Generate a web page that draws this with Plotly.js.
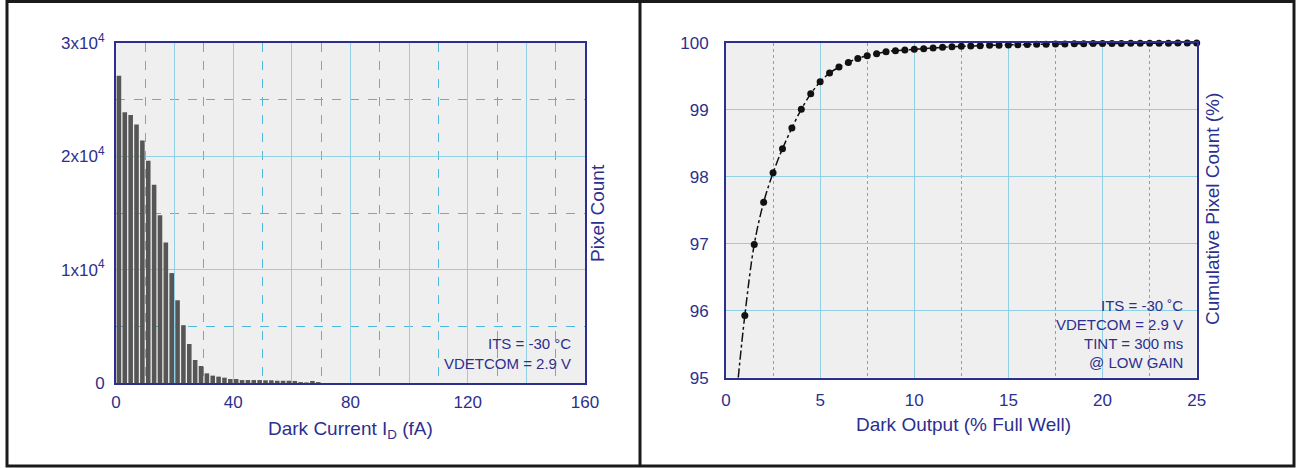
<!DOCTYPE html>
<html>
<head>
<meta charset="utf-8">
<script src="https://cdn.plot.ly/plotly-3.0.1.min.js"></script>
<style>html,body{margin:0;padding:0;background:#fff;}#chart{width:1298px;height:468px;}</style>
</head>
<body>
<div id="chart"></div>
<script>
// ---- Left chart: dark current histogram (2 fA bins starting at 0) ----
const binWidth = 2;
const pixelCounts = [27100, 23900, 23650, 22800, 21400, 19600, 17500, 14800, 12400, 9700,
                     7300, 5100, 3440, 2030, 1500, 850, 650, 560, 470, 350,
                     350, 260, 260, 260, 260, 240, 240, 200, 200, 200,
                     180, 80, 50, 180, 80];
const leftYTicks = [0, 10000, 20000, 30000];
const leftYTickText = ['0', '1x10<sup>4</sup>', '2x10<sup>4</sup>', '3x10<sup>4</sup>'];

// ---- Right chart: cumulative pixel count ----
const darkOutput = [1, 1.5, 2, 2.5, 3, 3.5, 4, 4.5, 5, 5.5, 6, 6.5, 7, 7.5, 8, 8.5, 9, 9.5, 10, 10.5,
                    11, 11.5, 12, 12.5, 13, 13.5, 14, 14.5, 15, 15.5, 16, 16.5, 17, 17.5, 18, 18.5,
                    19, 19.5, 20, 20.5, 21, 21.5, 22, 22.5, 23, 23.5, 24, 24.5, 25];
const cumulativePct = [95.93, 96.99, 97.62, 98.06, 98.42, 98.73, 99.01, 99.24, 99.42, 99.55,
                       99.64, 99.71, 99.77, 99.81, 99.84, 99.87, 99.885, 99.895, 99.905, 99.915,
                       99.925, 99.935, 99.945, 99.95, 99.955, 99.96, 99.965, 99.968, 99.971, 99.974,
                       99.977, 99.98, 99.982, 99.984, 99.986, 99.988, 99.99, 99.991, 99.992, 99.993,
                       99.994, 99.995, 99.996, 99.997, 99.998, 99.998, 99.999, 99.999, 100.0];
const fitStartX = [0.65];
const fitStartY = [95];

// ---- styling ----
const W = 1298, H = 468;
const navy = '#2d2f8e';
const gridCol = '#8fd0e4';
const minorCol = '#4fb6dc';
const font = 'Liberation Sans, Arial, Helvetica, sans-serif';
const px = v => v / W;
const py = v => 1 - v / H;

const binCenters = pixelCounts.map((_, i) => i * binWidth + binWidth / 2);

const traces = [
  {
    type: 'bar', x: binCenters, y: pixelCounts, width: binWidth * 0.78,
    marker: {color: '#565656'}, xaxis: 'x', yaxis: 'y', hoverinfo: 'x+y'
  },
  {
    type: 'scatter', mode: 'lines',
    x: fitStartX.concat(darkOutput), y: fitStartY.concat(cumulativePct),
    line: {color: '#111', width: 1.5, dash: 'dashdot', shape: 'spline'},
    xaxis: 'x2', yaxis: 'y2', cliponaxis: false, hoverinfo: 'skip'
  },
  {
    type: 'scatter', mode: 'markers', x: darkOutput, y: cumulativePct,
    marker: {color: '#111', size: 7},
    xaxis: 'x2', yaxis: 'y2', cliponaxis: false
  }
];

const axisCommon = {
  showline: true, mirror: true, linecolor: navy, linewidth: 2,
  zeroline: false, ticks: '', showgrid: true, gridcolor: gridCol, gridwidth: 1,
  tickfont: {family: font, size: 17, color: navy}, fixedrange: true
};

const layout = {
  width: W, height: H,
  margin: {l: 0, r: 0, t: 0, b: 0, pad: 0},
  paper_bgcolor: '#ffffff', plot_bgcolor: '#efefef',
  showlegend: false,
  font: {family: font, color: navy},
  xaxis: Object.assign({}, axisCommon, {
    domain: [px(116), px(585)], range: [0, 160], anchor: 'y',
    tickmode: 'linear', tick0: 0, dtick: 20, ticklabelstep: 2,
    ticklabelstandoff: 3,
    minor: {dtick: 10, showgrid: true, gridcolor: minorCol, griddash: 'dash', gridwidth: 1}
  }),
  yaxis: Object.assign({}, axisCommon, {
    domain: [py(383), py(43)], range: [0, 30000], anchor: 'x',
    tickmode: 'array', tickvals: leftYTicks, ticktext: leftYTickText,
    ticklabelstandoff: 6,
    minor: {dtick: 5000, showgrid: true, gridcolor: minorCol, griddash: 'dash', gridwidth: 1}
  }),
  xaxis2: Object.assign({}, axisCommon, {
    domain: [px(726), px(1196.7)], range: [0, 25], anchor: 'y2',
    tickmode: 'linear', tick0: 0, dtick: 5,
    ticklabelstandoff: 6,
    minor: {dtick: 2.5, showgrid: true, gridcolor: minorCol, griddash: 'dot', gridwidth: 1}
  }),
  yaxis2: Object.assign({}, axisCommon, {
    domain: [py(377.7), py(43)], range: [95, 100], anchor: 'x2',
    tickmode: 'linear', tick0: 95, dtick: 1,
    ticklabelstandoff: 12
  }),
  annotations: [
    {xref: 'paper', yref: 'paper', x: px(350), y: py(430), xanchor: 'center', yanchor: 'middle',
     text: 'Dark Current I<sub>D</sub> (fA)', showarrow: false, font: {size: 19, color: navy, family: font}},
    {xref: 'paper', yref: 'paper', x: px(598), y: py(213), xanchor: 'center', yanchor: 'middle', textangle: -90,
     text: 'Pixel Count', showarrow: false, font: {size: 19, color: navy, family: font}},
    {xref: 'paper', yref: 'paper', x: px(573), y: py(343), xanchor: 'right', yanchor: 'middle',
     text: 'ITS = -30 °C', showarrow: false, font: {size: 15, color: navy, family: font}},
    {xref: 'paper', yref: 'paper', x: px(573), y: py(363), xanchor: 'right', yanchor: 'middle',
     text: 'VDETCOM = 2.9 V', showarrow: false, font: {size: 15, color: navy, family: font}},
    {xref: 'paper', yref: 'paper', x: px(963), y: py(424), xanchor: 'center', yanchor: 'middle',
     text: 'Dark Output (% Full Well)', showarrow: false, font: {size: 19, color: navy, family: font}},
    {xref: 'paper', yref: 'paper', x: px(1213), y: py(209), xanchor: 'center', yanchor: 'middle', textangle: -90,
     text: 'Cumulative Pixel Count (%)', showarrow: false, font: {size: 19, color: navy, family: font}},
    {xref: 'paper', yref: 'paper', x: px(1185), y: py(305), xanchor: 'right', yanchor: 'middle',
     text: 'ITS = -30 ˚C', showarrow: false, font: {size: 15, color: navy, family: font}},
    {xref: 'paper', yref: 'paper', x: px(1185), y: py(324), xanchor: 'right', yanchor: 'middle',
     text: 'VDETCOM = 2.9 V', showarrow: false, font: {size: 15, color: navy, family: font}},
    {xref: 'paper', yref: 'paper', x: px(1185), y: py(343), xanchor: 'right', yanchor: 'middle',
     text: 'TINT = 300 ms', showarrow: false, font: {size: 15, color: navy, family: font}},
    {xref: 'paper', yref: 'paper', x: px(1185), y: py(362), xanchor: 'right', yanchor: 'middle',
     text: '@ LOW GAIN', showarrow: false, font: {size: 15, color: navy, family: font}}
  ],
  shapes: [
    {type: 'rect', xref: 'paper', yref: 'paper', x0: px(7), x1: px(1294), y0: py(466), y1: py(1.5),
     line: {color: '#1a1a1a', width: 3}, layer: 'above'},
    {type: 'line', xref: 'paper', yref: 'paper', x0: px(640), x1: px(640), y0: py(466), y1: py(1.5),
     line: {color: '#1a1a1a', width: 3}, layer: 'above'}
  ]
};

Plotly.newPlot('chart', traces, layout, {staticPlot: true, displayModeBar: false});
</script>
</body>
</html>
